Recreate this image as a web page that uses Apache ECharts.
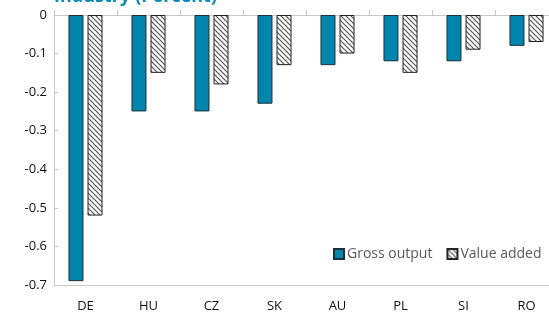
<!DOCTYPE html>
<html>
<head>
<meta charset="utf-8">
<script src="https://cdn.jsdelivr.net/npm/echarts@6/dist/echarts.min.js"></script>
<style>
  html, body { margin: 0; padding: 0; background: #fff; overflow: hidden; }
  #chart { width: 558px; height: 318px; }
</style>
</head>
<body>
<div id="chart"></div>
<script>
const countries = ['DE', 'HU', 'CZ', 'SK', 'AU', 'PL', 'SI', 'RO']
const grossOutput = [-0.69, -0.25, -0.25, -0.23, -0.13, -0.12, -0.12, -0.08]
const valueAdded = [-0.52, -0.15, -0.18, -0.13, -0.10, -0.15, -0.09, -0.07]

// diagonal hatch for the value added bars
function hatch() {
  const c = document.createElement('canvas')
  c.width = 5
  c.height = 5
  const ctx = c.getContext('2d')
  ctx.fillStyle = '#fff'
  ctx.fillRect(0, 0, 5, 5)
  ctx.strokeStyle = '#555'
  ctx.lineWidth = 1.2
  ctx.beginPath()
  ctx.moveTo(-1, -1); ctx.lineTo(6, 6)
  ctx.moveTo(-1, 4); ctx.lineTo(1, 6)
  ctx.moveTo(4, -1); ctx.lineTo(6, 1)
  ctx.stroke()
  return c
}

const font = '"Open Sans", sans-serif'
const chart = echarts.init(document.getElementById('chart'))

chart.setOption({
  animation: false,
  title: {
    text: '{a|Industry} {b|(Percent)}',
    left: 49,
    top: -17,
    textStyle: {
      rich: {
        a: { fontFamily: font, fontSize: 18, fontWeight: 'bold', color: '#0A8BBA' },
        b: { fontFamily: font, fontSize: 18, color: '#0A8BBA' }
      }
    }
  },
  grid: { left: 54, top: 15, bottom: 33, right: 0 },
  legend: {
    left: 328,
    top: 242,
    itemWidth: 10,
    itemHeight: 10,
    itemGap: 14,
    icon: 'rect',
    textStyle: { fontFamily: font, fontSize: 14, color: '#595959', padding: [0, 0, 0, -2] },
    data: ['Gross output', 'Value added']
  },
  xAxis: [
    {
      type: 'category',
      data: countries,
      position: 'bottom',
      axisLine: { onZero: false, lineStyle: { color: '#C8C8C8' } },
      axisTick: { show: false },
      axisLabel: { fontFamily: font, fontSize: 13, color: '#111', margin: 15 }
    },
    {
      type: 'category',
      data: countries,
      position: 'top',
      axisLine: { onZero: false, lineStyle: { color: '#C8C8C8' } },
      axisTick: { show: true, length: 5, lineStyle: { color: '#C8C8C8' } },
      axisLabel: { show: false }
    }
  ],
  yAxis: {
    type: 'value',
    min: -0.7,
    max: 0,
    interval: 0.1,
    axisLine: { show: true, lineStyle: { color: '#C8C8C8' } },
    axisTick: { show: true, inside: true, length: 4, lineStyle: { color: '#C8C8C8' } },
    splitLine: { show: false },
    axisLabel: {
      fontFamily: font,
      fontSize: 13,
      color: '#111',
      margin: 7,
      formatter: (v) => (Math.abs(v) < 1e-9 ? '0' : v.toFixed(1))
    }
  },
  series: [
    {
      name: 'Gross output',
      type: 'bar',
      data: grossOutput,
      barWidth: 15,
      barGap: '27%',
      itemStyle: { color: '#0085AD', borderColor: '#1F2F3A', borderWidth: 1 }
    },
    {
      name: 'Value added',
      type: 'bar',
      data: valueAdded,
      barWidth: 15,
      itemStyle: { color: { image: hatch(), repeat: 'repeat' }, borderColor: '#222', borderWidth: 1 }
    }
  ]
})
</script>
</body>
</html>
